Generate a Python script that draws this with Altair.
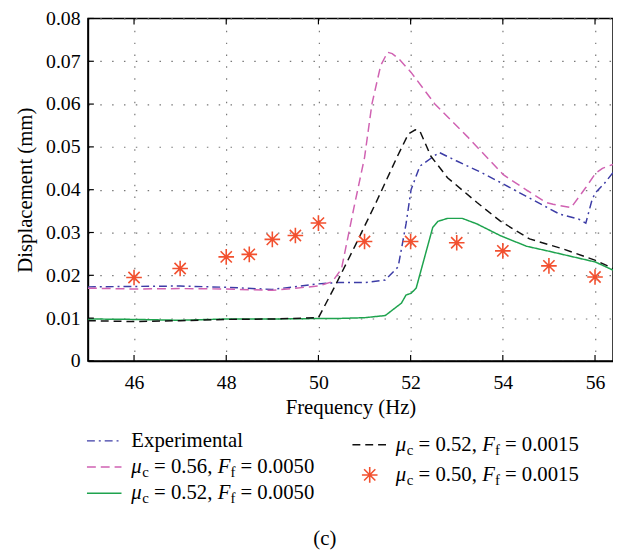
import altair as alt
import pandas as pd

# ---------------- data ----------------
exp_f = [45.0, 46.0, 47.0, 48.0, 49.0, 50.0, 50.4, 51.0, 51.45, 51.73, 51.9, 52.01, 52.2, 52.62,
         53.0, 53.5, 54.0, 54.5, 55.23, 55.65, 55.8, 55.94, 56.01, 56.19, 56.39]
exp_d = [0.0173, 0.0174, 0.0175, 0.0172, 0.0167, 0.0180, 0.0183, 0.0183, 0.0189, 0.0220, 0.0320,
         0.0400, 0.0455, 0.0487, 0.0467, 0.0442, 0.0414, 0.0385, 0.0343, 0.0331, 0.0322, 0.0378,
         0.0393, 0.0413, 0.0440]

m56_f = [45.0, 46.0, 47.0, 48.0, 49.0, 49.5, 50.0, 50.3, 50.5, 50.77, 51.0, 51.16, 51.35, 51.5,
         51.6, 51.75, 52.01, 52.52, 53.23, 54.01, 54.5, 54.94, 55.09, 55.48, 55.8, 56.01, 56.16, 56.39]
m56_d = [0.0170, 0.0168, 0.0169, 0.0168, 0.0165, 0.0170, 0.0175, 0.0185, 0.0215, 0.0358, 0.0475,
         0.0600, 0.0690, 0.0721, 0.0718, 0.0705, 0.0674, 0.0601, 0.0524, 0.0435, 0.0400, 0.0370,
         0.0366, 0.0358, 0.0405, 0.0438, 0.0450, 0.0459]

k52_f = [45.0, 46.0, 47.0, 48.0, 49.0, 50.0, 50.37, 50.8, 51.25, 51.7, 51.95, 52.1, 52.2, 52.44,
         52.8, 53.44, 53.94, 54.58, 55.3, 56.01, 56.39]
k52_d = [0.0094, 0.0092, 0.0094, 0.0097, 0.0098, 0.0101, 0.0177, 0.0270, 0.0370, 0.0475, 0.0530,
         0.0540, 0.0537, 0.0478, 0.0428, 0.0370, 0.0327, 0.0285, 0.0262, 0.0235, 0.0216]

g52_f = [45.0, 46.0, 47.0, 48.0, 49.0, 50.0, 50.37, 51.0, 51.45, 51.8, 51.9, 52.01, 52.12, 52.48,
         52.59, 52.8, 53.12, 53.44, 53.94, 54.51, 55.01, 56.01, 56.39]
g52_d = [0.0098, 0.0097, 0.0095, 0.0098, 0.0098, 0.0099, 0.0099, 0.0101, 0.0106, 0.0135, 0.0154,
         0.0158, 0.0170, 0.0312, 0.0326, 0.0333, 0.0333, 0.0320, 0.0293, 0.0268, 0.0256, 0.0231,
         0.0212]

star_f = [46, 47, 48, 48.5, 49, 49.5, 50, 51, 52, 53, 54, 55, 56]
star_d = [0.0195, 0.0216, 0.0243, 0.0249, 0.0284, 0.0293, 0.0322, 0.0279, 0.0279, 0.0276,
          0.0257, 0.0222, 0.0196]

x_ticks = [46, 48, 50, 52, 54, 56]
y_ticks = [0, 0.01, 0.02, 0.03, 0.04, 0.05, 0.06, 0.07, 0.08]

series_names = ["Experimental", "mu056_F0050", "mu052_F0050", "mu052_F0015"]
series_colors = ["#3c3ca6", "#d062b2", "#1ea34e", "#111111"]
series_dash = [[8, 4, 2, 4], [9, 5], [1, 0], [8, 5]]
star_color = "#f2502f"

FONT = "Liberation Serif"
W, H = 532, 347
TOP = 7  # padding above the plot

# ---------------- tables ----------------
rows = []
for name, fs, ds in zip(series_names, [exp_f, m56_f, g52_f, k52_f], [exp_d, m56_d, g52_d, k52_d]):
    for i, (f, d) in enumerate(zip(fs, ds)):
        rows.append({"s": name, "f": f, "d": d, "o": i})
lines_df = pd.DataFrame(rows)
stars_df = pd.DataFrame({"f": star_f, "d": star_d})
xt_df = pd.DataFrame({"t": x_ticks})
yt_df = pd.DataFrame({"t": y_ticks})

xs = alt.Scale(domain=[45, 56.39], nice=False, zero=False)
ys = alt.Scale(domain=[0, 0.08], nice=False, zero=False)

STAR = "M0,-1L0,1M-1,0L1,0M-0.72,-0.72L0.72,0.72M-0.72,0.72L0.72,-0.72"

x_axis = alt.Axis(values=x_ticks, title="Frequency (Hz)", ticks=False, labelPadding=12,
                  titlePadding=4, gridDash=[1.5, 10.5])
y_axis = alt.Axis(values=y_ticks, title="Displacement (mm)", ticks=False, labelPadding=8,
                  titlePadding=10, gridDash=[1.5, 10.5],
                  labelExpr="datum.value == 0 ? '0' : format(datum.value, '.2f')")

lines = alt.Chart(lines_df).mark_line(clip=True, strokeWidth=1.5).encode(
    x=alt.X("f:Q", scale=xs, axis=x_axis),
    y=alt.Y("d:Q", scale=ys, axis=y_axis),
    color=alt.Color("s:N", scale=alt.Scale(domain=series_names, range=series_colors), legend=None),
    strokeDash=alt.StrokeDash("s:N", scale=alt.Scale(domain=series_names, range=series_dash), legend=None),
    order="o:Q",
)

stars = alt.Chart(stars_df).mark_point(shape=STAR, filled=False, size=250, strokeWidth=1.6,
                                       color=star_color, opacity=1).encode(
    x=alt.X("f:Q", scale=xs), y=alt.Y("d:Q", scale=ys))

tick_bottom = alt.Chart(xt_df).mark_rule(color="black", strokeWidth=1.2).encode(
    x=alt.X("t:Q", scale=xs), y=alt.value(H), y2=alt.value(H - 6))
tick_top = alt.Chart(xt_df).mark_rule(color="black", strokeWidth=1.2).encode(
    x=alt.X("t:Q", scale=xs), y=alt.value(0), y2=alt.value(6))
tick_left = alt.Chart(yt_df).mark_rule(color="black", strokeWidth=1.2).encode(
    y=alt.Y("t:Q", scale=ys), x=alt.value(0), x2=alt.value(6))

# ---------------- manual legend (pixel layout relative to plot) ----------------
one = alt.Data(values=[{"a": 1}])
layers = []
LF = 21   # legend font size
SF = 15   # subscript font size


def rel_y(page_y):
    # plot-relative y for a page y (8px body margin + top padding)
    return page_y - 8 - TOP


def txt(x, y, s, size=LF, italic=False, align="left", baseline="alphabetic"):
    kw = dict(text=s, font=FONT, fontSize=size, align=align, baseline=baseline, color="black")
    if italic:
        kw["fontStyle"] = "italic"
    layers.append(alt.Chart(one).mark_text(**kw).encode(x=alt.value(x), y=alt.value(y)))


def seg(x1, x2, y, color, dash):
    layers.append(alt.Chart(one).mark_rule(color=color, strokeWidth=1.5, strokeDash=dash).encode(
        x=alt.value(x1), x2=alt.value(x2), y=alt.value(y)))


def mu_label(x0, y, mu_val, f_val):
    b = y + 6
    txt(x0, b, "μ", italic=True)
    txt(x0 + 11, b + 4, "c", size=SF)
    txt(x0 + 23, b, "= " + mu_val + ",")
    txt(x0 + 87.5, b, "F", italic=True)
    txt(x0 + 100.5, b + 4, "f", size=SF)
    txt(x0 + 110.5, b, "= " + f_val)


LX1, LX2, LT = -1, 34, 44
RX1, RX2, RT = 268, 303, 312
rows_left = [rel_y(443), rel_y(469.5), rel_y(496)]
rows_right = [rel_y(447), rel_y(477.5)]

seg(LX1, LX2, rows_left[0], series_colors[0], series_dash[0])
txt(LT, rows_left[0] + 6, "Experimental")
seg(LX1, LX2, rows_left[1], series_colors[1], series_dash[1])
mu_label(LT, rows_left[1], "0.56", "0.0050")
seg(LX1, LX2, rows_left[2], series_colors[2], series_dash[2])
mu_label(LT, rows_left[2], "0.52", "0.0050")

seg(RX1, RX2, rows_right[0], series_colors[3], series_dash[3])
mu_label(RT, rows_right[0], "0.52", "0.0015")
layers.append(alt.Chart(one).mark_point(shape=STAR, filled=False, size=250, strokeWidth=1.6,
                                        color=star_color, opacity=1).encode(
    x=alt.value((RX1 + RX2) / 2), y=alt.value(rows_right[1])))
mu_label(RT, rows_right[1], "0.50", "0.0015")

txt(329 - 89, rel_y(543), "(c)", align="center", baseline="middle")

chart = alt.layer(lines, stars, tick_bottom, tick_top, tick_left, *layers).properties(
    width=W, height=H,
    padding={"left": 81, "top": TOP, "right": 0, "bottom": 544 - TOP - H},
    autosize=alt.AutoSizeParams(type="none"),
).configure_view(stroke="black", strokeWidth=1.5).configure_axis(
    labelFont=FONT, labelFontSize=20, labelColor="black",
    titleFont=FONT, titleFontSize=21, titleFontWeight="normal", titleColor="black",
    domainColor="black", domainWidth=1.5, gridColor="#777777", gridWidth=1.2,
)

chart.save("out.html", embed_options={"renderer": "svg", "actions": False})
